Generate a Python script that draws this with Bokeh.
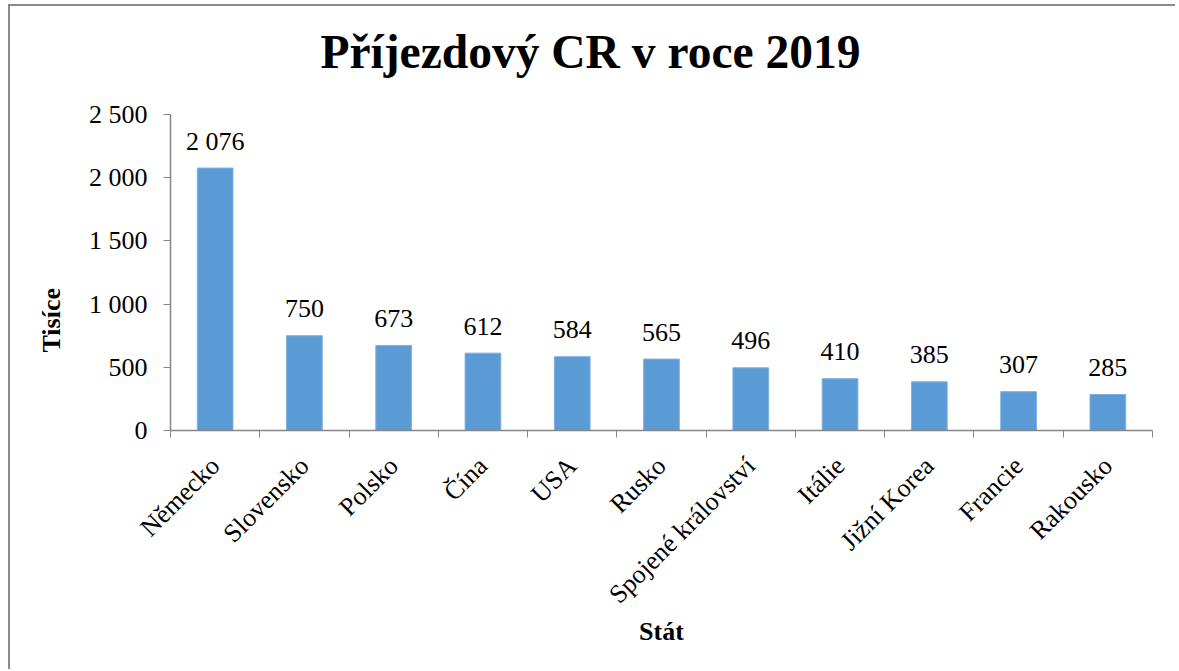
from math import pi
from bokeh.plotting import figure
from bokeh.models import ColumnDataSource, FixedTicker, Title, Range1d
from bokeh.core.properties import value
from bokeh.embed import file_html
from bokeh.resources import INLINE

countries = ["Německo", "Slovensko", "Polsko", "Čína", "USA", "Rusko",
             "Spojené království", "Itálie", "Jižní Korea", "Francie", "Rakousko"]
arrivals = [2076, 750, 673, 612, 584, 565, 496, 410, 385, 307, 285]
y_ticks = [0, 500, 1000, 1500, 2000, 2500]
y_tick_labels = ["0", "500", "1 000", "1 500", "2 000", "2 500"]
title_text = "Příjezdový CR v roce 2019"
y_label = "Tisíce"
x_label = "Stát"

FONT = "Liberation Serif"
BAR = "#5B9BD5"
AXIS = "#868686"
FS = "26px"

# layout: frame from canvas y=88 to y=424; the value axis spans 0..2500
# (2500 sits 20 px below the frame top, the room is used by the title)
Y_TOP = 2500 + 20 / ((424 - 108) / 2500)

xs = [i + 0.5 for i in range(len(countries))]
src = ColumnDataSource(dict(
    x=xs,
    y=arrivals,
    lbl=[f"{v:,}".replace(",", " ") for v in arrivals],
))

p = figure(width=1167, height=665, output_backend="svg", toolbar_location=None,
           x_range=Range1d(0, len(countries)), y_range=Range1d(0, Y_TOP),
           min_border_left=160, min_border_right=25, min_border_top=88,
           min_border_bottom=241,
           styles={"margin-left": "8px", "margin-top": "4px",
                   "border-left": "2px solid #898989",
                   "border-top": "2px solid #898989"})
p.outline_line_color = None
p.grid.grid_line_color = None
p.background_fill_color = "white"
p.border_fill_color = "white"

p.vbar(x="x", top="y", width=0.4, bottom=0, source=src,
       fill_color=BAR, line_color="#7FB0DE", line_width=1)
p.text(x="x", y="y", text="lbl", source=src, text_align="center",
       text_baseline="alphabetic", y_offset=-27,
       text_font=value(FONT), text_font_size=FS, text_color="black")

# x axis: ticks at category boundaries, labels at centres
xa = p.xaxis[0]
xa.ticker = FixedTicker(ticks=xs, minor_ticks=list(range(len(countries) + 1)))
xa.major_label_overrides = {x: c for x, c in zip(xs, countries)}
xa.major_tick_out = 0
xa.major_tick_in = 0
xa.minor_tick_out = 7
xa.minor_tick_in = 0
xa.major_label_orientation = pi / 4
xa.major_label_standoff = 24
xa.axis_line_color = AXIS
xa.minor_tick_line_color = AXIS
xa.axis_line_width = 1.5
xa.major_label_text_font = FONT
xa.major_label_text_font_size = FS
xa.major_label_text_color = "black"
xa.axis_label = x_label
xa.axis_label_text_font = FONT
xa.axis_label_text_font_size = FS
xa.axis_label_text_font_style = "bold"
xa.axis_label_text_color = "black"
xa.axis_label_standoff = -5

ya = p.yaxis[0]
ya.ticker = FixedTicker(ticks=y_ticks, minor_ticks=[])
ya.major_label_overrides = {t: l for t, l in zip(y_ticks, y_tick_labels)}
ya.bounds = (0, 2500)
ya.major_tick_out = 7
ya.major_tick_in = 0
ya.minor_tick_out = 0
ya.minor_tick_in = 0
ya.major_label_standoff = 16
ya.axis_line_color = AXIS
ya.major_tick_line_color = AXIS
ya.axis_line_width = 1.5
ya.major_label_text_font = FONT
ya.major_label_text_font_size = FS
ya.major_label_text_color = "black"

p.add_layout(Title(text=y_label, align="left", offset=78, standoff=40,
                   text_font=FONT, text_font_size=FS,
                   text_font_style="bold", text_color="black"), "left")

p.add_layout(Title(text=title_text, align="left", offset=150, standoff=33,
                   text_font=FONT, text_font_size="47.5px",
                   text_font_style="bold", text_color="black"), "above")

open("out.html", "w").write(file_html(p, INLINE))
